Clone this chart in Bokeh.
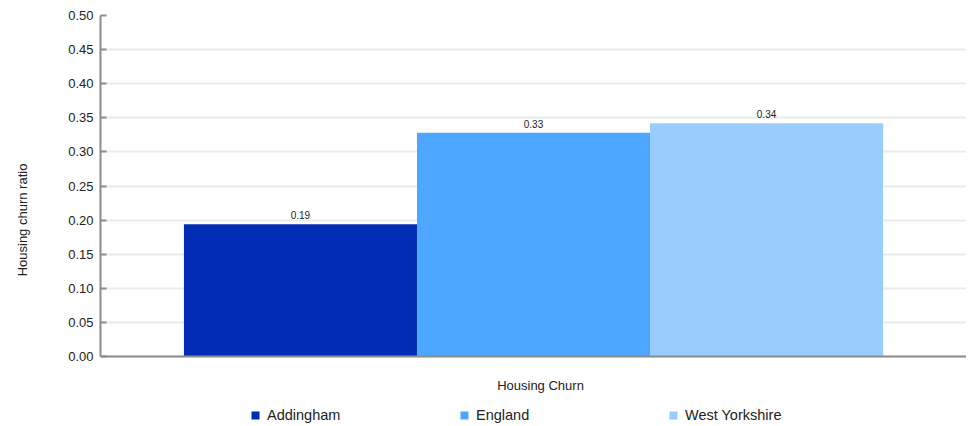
from bokeh.plotting import figure
from bokeh.models import (ColumnDataSource, Range1d, LabelSet, Label, Legend,
                          LegendItem, SingleIntervalTicker, NumeralTickFormatter, Span)
from bokeh.core.properties import value
from bokeh.embed import file_html
from bokeh.resources import INLINE

areas = ["Addingham", "England", "West Yorkshire"]
values = [0.194, 0.328, 0.342]
value_labels = ["0.19", "0.33", "0.34"]
colors = ["#002db3", "#4da6ff", "#99ccff"]
x_title = "Housing Churn"
y_title = "Housing churn ratio"

FONT = "Liberation Sans"
pos = list(range(len(areas)))
src = ColumnDataSource(dict(x=pos, area=areas, value=values, label=value_labels, color=colors))

pad = 0.358
p = figure(x_range=Range1d(-0.5 - pad, len(areas) - 0.5 + pad),
           y_range=Range1d(-0.0997, 0.5),
           frame_width=866, frame_height=409, output_backend="svg", toolbar_location=None,
           min_border_left=100, min_border_right=0, min_border_top=15, min_border_bottom=0,
           x_axis_location=None)
p.outline_line_color = None

r = p.vbar(x="x", top="value", width=1.0, fill_color="color", line_color=None, source=src)

p.add_layout(LabelSet(x="x", y="value", text="label", source=src, text_align="center",
                      text_baseline="bottom", y_offset=5, text_font_size="10px",
                      text_color="#222222", text_font=value(FONT)))

# y axis
ya = p.yaxis[0]
ya.bounds = (0, 0.5)
ya.ticker = SingleIntervalTicker(interval=0.05)
ya.formatter = NumeralTickFormatter(format="0.00")
ya.axis_line_color = "#8c8c8c"
ya.axis_line_width = 2
ya.major_tick_line_color = "#8c8c8c"
ya.major_tick_line_width = 2
ya.major_tick_in = 6
ya.major_tick_out = 0
ya.minor_tick_line_color = None
ya.major_label_text_font = FONT
ya.major_label_text_font_size = "13px"
ya.major_label_text_color = "#222222"
ya.major_label_standoff = 3
ya.axis_label = y_title
ya.axis_label_text_font = FONT
ya.axis_label_text_font_size = "13px"
ya.axis_label_text_font_style = "normal"
ya.axis_label_text_color = "#222222"
ya.axis_label_standoff = 35

p.xgrid.grid_line_color = None
p.ygrid.grid_line_color = "#ebebeb"
p.ygrid.grid_line_width = 2
p.ygrid.bounds = (0, 0.5)

# x axis line and title
p.add_layout(Span(location=0, dimension="width", line_color="#8c8c8c", line_width=2))
p.add_layout(Label(x=(len(areas) - 1) / 2, y=0, text=x_title, text_align="center",
                   text_baseline="middle", y_offset=-29, x_offset=7,
                   text_font=FONT, text_font_size="13px", text_color="#222222"))

legend = Legend(items=[LegendItem(label=a, renderers=[r], index=i) for i, a in enumerate(areas)],
                orientation="horizontal", location=(150, 1),
                glyph_width=10, glyph_height=10, label_width=190, label_standoff=7,
                label_text_font=FONT, label_text_font_size="14.5px", label_text_color="#222222",
                label_height=10,
                spacing=2, padding=0, margin=0, border_line_color=None,
                background_fill_alpha=0)
p.add_layout(legend, "center")

open("out.html", "w").write(file_html(p, INLINE))
